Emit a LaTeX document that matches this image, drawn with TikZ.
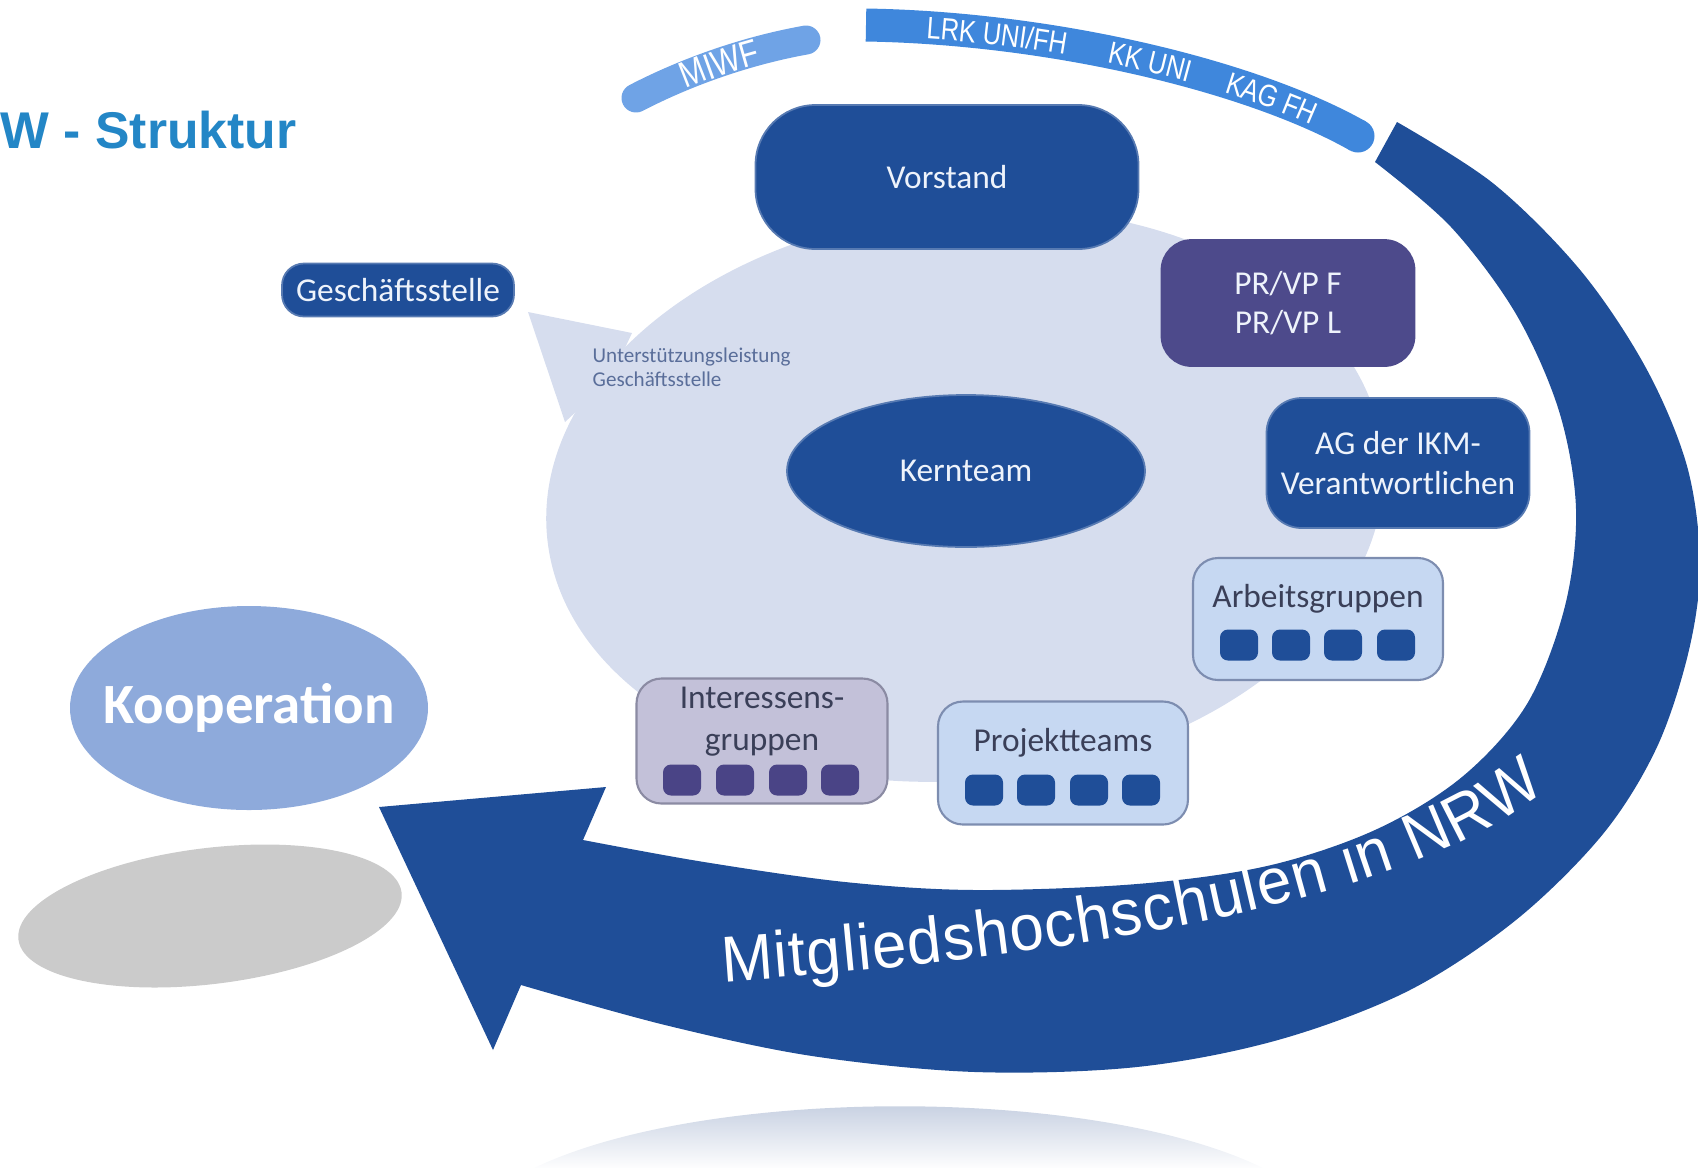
\documentclass[tikz,border=0pt]{standalone}
\usepackage{fontspec}
\setmainfont{Carlito}
\newfontfamily\arialfont{Liberation Sans}
\newfontfamily\narrowfont[FakeStretch=0.82]{Liberation Sans}
\newfontfamily\mitgliedfamily[FakeStretch=0.95]{Liberation Sans}
\usetikzlibrary{shapes.geometric,decorations.text}
\definecolor{ndarkblue}{HTML}{1F4E98}
\definecolor{npurple}{HTML}{4D4A8B}
\definecolor{nsquarepurple}{HTML}{4A4486}
\definecolor{nbubble}{HTML}{D6DDEE}
\definecolor{nlightbox}{HTML}{C6D8F2}
\definecolor{nlightedge}{HTML}{7D8DB0}
\definecolor{nlilac}{HTML}{C3C1D9}
\definecolor{nlilacedge}{HTML}{8B8BA3}
\definecolor{nkoop}{HTML}{8EAADB}
\definecolor{nmiwf}{HTML}{6FA3E6}
\definecolor{nband}{HTML}{3F87DC}
\definecolor{ntitle}{HTML}{2386C6}
\definecolor{ntext}{HTML}{3A3F58}
\definecolor{nsmalltext}{HTML}{5A6E9A}
\definecolor{nshadow}{HTML}{CBCBCB}
\definecolor{nreflect}{HTML}{B7C3D9}
\definecolor{nwhite}{HTML}{EEF3FB}
\newcommand\bandfont{\narrowfont\fontsize{8.8}{10}\selectfont}
\newcommand\miwffont{\narrowfont\fontsize{10.5}{12}\selectfont}
\newcommand\mitgliedfont{\mitgliedfamily\fontsize{18.5}{20}\selectfont}
\tikzset{
	darkbox/.style={fill=ndarkblue, draw=ndarkblue!75!white, line width=0.5pt, text=nwhite, inner sep=0pt, align=center, font=\fontsize{9.5}{11.2}\selectfont},
	lightbox/.style={fill=nlightbox, draw=nlightedge, line width=0.6pt, rounded corners=2.5mm, inner sep=0pt},
	lilacbox/.style={lightbox, fill=nlilac, draw=nlilacedge},
	boxlabel/.style={text=ntext, inner sep=0pt, align=center, font=\fontsize{9.5}{12}\selectfont},
	minisquare/.style={fill=ndarkblue, rounded corners=0.8mm, minimum width=3.8mm, minimum height=3.1mm, inner sep=0pt},
	bandtext/.style={decorate, decoration={text along path, text={|\bandfont|#1}, text color=white, raise=-1.1mm}}
}

\begin{document}
\begin{tikzpicture}[x=0.1mm, y=-0.1mm]
		\useasboundingbox (0,0) rectangle (1698,1167);
		\shade[top color=nreflect, bottom color=white] (530,1170) .. controls (700,1085) and (1100,1085) .. (1267,1170) -- cycle;
		\fill[nshadow, rotate around={7:(210,916)}] (210,916) ellipse [x radius=19.3mm, y radius=6.8mm];
		\fill[nbubble, rotate around={6:(965,495)}] (965,495) ellipse [x radius=42mm, y radius=28.5mm];
		\fill[nbubble] (528,312) -- (632,333) -- (610,380) -- (565,422) -- cycle;
		\coordinate (tip)	 at (379,807);
		\coordinate (headA)	 at (606,787);
		\coordinate (headB)	 at (493,1050);
		\fill[ndarkblue] plot[smooth, tension=0.55] coordinates {(1397,122) (1494,184) (1581,271) (1646,368) (1687,466) (1700,563) (1689,650) (1657,747) (1603,834) (1516,920) (1408,991) (1278,1040) (1137,1067) (975,1072) (812,1056) (665,1025) (521,985)} -- (headB) -- (tip) -- (headA) -- plot[smooth, tension=0.55] coordinates {(583,840) (704,862) (845,882) (975,890) (1137,884) (1267,866) (1375,830) (1462,777) (1527,704) (1565,606) (1576,509) (1559,411) (1516,314) (1451,227) (1375,162)} -- cycle;
		\path[decorate, decoration={text along path, text={|\mitgliedfont|Mitgliedshochschulen in NRW}, text color=white, text align=fit to path}] (723,982) .. controls (1000,962) and (1395,915) .. (1545,790);
		\draw[nmiwf, line width=2.9mm, line cap=round] (636,98) .. controls (690,70) and (750,50) .. (806,40);
		\path[decorate, decoration={text along path, text={|\miwffont|MIWF}, text color=white, raise=-1.3mm, text align=center}] (636,98) .. controls (690,70) and (750,50) .. (806,40);
		\draw[nband, line width=3.3mm] (866,25) .. controls (1050,28) and (1250,75) .. (1358,136);
		\fill[nband] (1358,136) circle[radius=1.65mm];
		\path[bandtext={LRK UNI/FH}, decoration={text align={left indent=6.1mm}}] (866,25) .. controls (1050,28) and (1250,75) .. (1358,136);
		\path[bandtext={KK UNI}, decoration={text align={left indent=24.5mm}}] (866,25) .. controls (1050,28) and (1250,75) .. (1358,136);
		\path[bandtext={KAG FH}, decoration={text align={left indent=36.7mm}}] (866,25) .. controls (1050,28) and (1250,75) .. (1358,136);
		\node[anchor=base west, font=\arialfont\bfseries\fontsize{14.7}{16}\selectfont, text=ntitle, inner sep=0pt] (title) at (0,148) {W - Struktur};
		\node[darkbox, rounded corners=6mm, minimum width=38.3mm, minimum height=14.4mm] (vorstand) at (947,177) {Vorstand};
		\node[darkbox, rounded corners=2.2mm, minimum width=23.2mm, minimum height=5.3mm] (gst) at (398,290) {Geschäftsstelle};
		\node[anchor=north west, align=left, font=\fontsize{6}{6.9}\selectfont, text=nsmalltext, inner sep=0pt] (support) at (592,347) {Unterstützungsleistung\\Geschäftsstelle};
		\node[darkbox, ellipse, minimum width=35.8mm, minimum height=15.2mm] (kern) at (966,471) {Kernteam};
		\node[darkbox, fill=npurple, draw=npurple, rounded corners=3mm, minimum width=25.3mm, minimum height=12.6mm] (prvp) at (1288,303) {PR/VP F\\PR/VP L};
		\node[darkbox, rounded corners=3.5mm, minimum width=26.3mm, minimum height=13mm] (ikm) at (1398,463) {AG der IKM-\\Verantwortlichen};
		\node[lightbox, minimum width=25mm, minimum height=12.2mm] (arbeit) at (1318,619) {};
		\node[boxlabel] (arbeit-label) at (1318,599) {Arbeitsgruppen};
		\foreach \x [count=\i] in {1239,1291,1343,1396}
			\node[minisquare] (arbeit-\i) at (\x,645) {};
		\node[lightbox, minimum width=25mm, minimum height=12.3mm] (projekt) at (1063,763) {};
		\node[boxlabel] (projekt-label) at (1063,743) {Projektteams};
		\foreach \x [count=\i] in {984,1036,1089,1141}
			\node[minisquare] (projekt-\i) at (\x,790) {};
		\node[lilacbox, minimum width=25.1mm, minimum height=12.5mm] (interesse) at (762,741) {};
		\node[boxlabel] (interesse-label) at (762,722) {Interessens-\\gruppen};
		\foreach \x [count=\i] in {682,735,788,840}
			\node[minisquare, fill=nsquarepurple] (interesse-\i) at (\x,780) {};
		\node[ellipse, fill=nkoop, inner sep=0pt, minimum width=35.8mm, minimum height=20.4mm] (koop) at (249,708) {};
		\node[text=white, inner sep=0pt, font=\bfseries\fontsize{16.2}{18}\selectfont] (koop-label) at (koop) {Kooperation};
	\end{tikzpicture}
\end{document}
